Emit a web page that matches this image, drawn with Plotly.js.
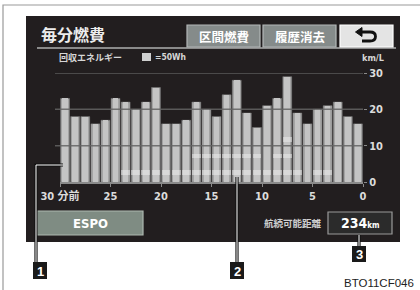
<!DOCTYPE html>
<html><head><meta charset="utf-8">
<script src="https://cdn.plot.ly/plotly-3.0.1.min.js"></script>
<style>html,body{margin:0;padding:0;background:#fff;}#c{width:420px;height:290px;}</style>
</head><body><div id="c"></div>
<script>
// ---- data ----
const minuteSlots = [1,2,3,4,5,6,7,8,9,10,11,12,13,14,15,16,17,18,19,20,21,22,23,24,25,26,27,28,29,30];
const fuelKmL = [23,18,18,16,17,23,22,20,22,26,16,16,17,22,20,18,24,28,19,15,21,23,29,19,16,20,21,22,18,16];
const regenBlocks = [0,0,0,0,0,0,1,1,1,1,1,1,1,2,2,2,2,2,2,2,1,2,3,1,0,1,1,0,0,0];
const xTickLabels = ['30 分前','25','20','15','10','5','0'];
const yTickLabels = ['0','10','20','30'];
const yTickValues = [0,10,20,30];
const rangeKm = '234';

// ---- geometry helpers (pixel -> paper) ----
const W=420,H=290,L=60,R=57,T=73,B=108;
const pw=W-L-R, ph=H-T-B;
const px=x=>(x-L)/pw, py=y=>(H-B-y)/ph;
const CJK = '"Noto Sans CJK JP","Noto Sans",sans-serif';
const NARROW = '"Liberation Sans Narrow","DejaVu Sans Condensed","Noto Sans CJK JP",sans-serif';

const shapes=[];
function rect(x0,y0,x1,y1,fill,lc,lw,layer){
  shapes.push({type:'rect',xref:'paper',yref:'paper',x0:px(x0),x1:px(x1),y0:py(y1),y1:py(y0),
    fillcolor:fill,line:{color:lc||'rgba(0,0,0,0)',width:lw||0},layer:layer||'below'});
}
function line(x0,y0,x1,y1,c,w,layer){
  shapes.push({type:'line',xref:'paper',yref:'paper',x0:px(x0),x1:px(x1),y0:py(y0),y1:py(y1),
    line:{color:c,width:w},layer:layer||'below'});
}
const ann=[];
function text(x,y,t,size,color,xa,opts){
  ann.push(Object.assign({xref:'paper',yref:'paper',x:px(x),y:py(y),text:t,showarrow:false,
    xanchor:xa||'center',yanchor:'middle',font:{family:CJK,size:size,color:color,weight:'bold'}},opts||{}));
}

// frame & screen
rect(3,5,440,310,'rgba(0,0,0,0)','#9a9a9a',1.2);
rect(26,16,400,242,'#221e1f');
// title underline
line(37,48,396,48,'#8a8a8a',2);
// buttons
rect(187,25,260,47,'#858b8a','#b4b8b8',1.2);
rect(263,25,336,47,'#858b8a','#b4b8b8',1.2);
rect(340,25,393,47,'#e4e4e4','#ffffff',1.2);
// back arrow
shapes.push({type:'path',xref:'paper',yref:'paper',layer:'above',
  path:`M${px(361)},${py(32)} L${px(370)},${py(32)} Q${px(375.5)},${py(32)} ${px(375.5)},${py(36.5)} Q${px(375.5)},${py(41)} ${px(370)},${py(41)} L${px(362)},${py(41)}`,
  line:{color:'#111',width:2.8}});
shapes.push({type:'path',xref:'paper',yref:'paper',layer:'above',
  path:`M${px(355.5)},${py(32)} L${px(362)},${py(27.5)} L${px(362)},${py(36.5)} Z`,
  fillcolor:'#111',line:{color:'#111',width:1}});
// legend square
rect(142,53,151,61,'#cfcfcf');
// ESPO button
rect(37,211,143,235,'#7f8c83','#adb8b0',1.2);
// range box
rect(328,212,392,234,'#2b2b2b','#9a9a9a',1.2);

// gridlines above bars
yTickValues.slice(1).forEach(v=>{
  shapes.push({type:'line',xref:'paper',yref:'y',x0:px(55),x1:1,y0:v,y1:v,
    line:{color:'rgba(100,100,100,0.85)',width:1.5},layer:'above'});
});

// callouts
function callout(pts,sq,num){
  const path='M'+pts.map(p=>px(p[0])+','+py(p[1])).join(' L');
  shapes.push({type:'path',xref:'paper',yref:'paper',path:path,line:{color:'#111',width:3.2},layer:'above'});
  shapes.push({type:'path',xref:'paper',yref:'paper',path:path,line:{color:'#ffffff',width:1},layer:'above'});
  rect(sq[0],sq[1],sq[2],sq[3],'#1a1a1a','#1a1a1a',0,'above');
  text((sq[0]+sq[2])/2,(sq[1]+sq[3])/2+0.5,num,13,'#ffffff','center',{font:{family:'"Liberation Sans",Arial,sans-serif',size:13,color:'#fff',weight:'bold'}});
}
callout([[63,165],[36,165],[36,262]],[33,262,47,279],'1');
callout([[237,177],[237,262]],[230,262,244,279],'2');
callout([[359,235],[359,246]],[352,246,366,262],'3');

// texts
text(39,34,'毎分燃費',16,'#ececec','left');
text(223.5,36,'区間燃費',12.5,'#ffffff');
text(299.5,36,'履歴消去',12.5,'#ffffff');
text(57,57,'回収エネルギー',9,'#d6d6d6','left');
text(153,57,'=50Wh',8.5,'#d6d6d6','left',{font:{family:NARROW,size:8.5,color:'#d6d6d6',weight:'bold'}});
text(373,58,'km/L',9,'#d6d6d6','center',{font:{family:NARROW,size:9,color:'#d6d6d6',weight:'bold'}});
text(90,223,'ESPO',12,'#ffffff','center',{font:{family:NARROW,size:13,color:'#fff',weight:'bold'}});
text(293,223,'航続可能距離',9.5,'#cfcfcf');
text(360,223,rangeKm+'<span style="font-size:8px">km</span>',14,'#ffffff','center',{font:{family:NARROW,size:14,color:'#fff',weight:'bold'}});
text(379,283,'BTO11CF046',11.5,'#222','center',{font:{family:'"Liberation Sans",Arial,sans-serif',size:11.5,color:'#222',weight:'normal'}});

// ---- traces ----
const traces=[
  {type:'bar',x:minuteSlots,y:fuelKmL,width:0.88,marker:{color:'#a4a4a4',line:{color:'#7c7c7c',width:0.5}}},
  {type:'bar',x:minuteSlots,y:fuelKmL,width:0.55,marker:{color:'#c4c4c4',line:{width:0}}}
];
[1,2,3].forEach(k=>{
  traces.push({type:'bar',x:minuteSlots,
    y:regenBlocks.map(b=>b>=k?1.3:null),
    base:regenBlocks.map(b=>b>=k?2.0+4.5*(k-1):null),
    width:0.88,marker:{color:'rgba(238,238,238,0.5)',line:{width:0}}});
});

const layout={
  width:W,height:H,margin:{l:L,r:R,t:T,b:B,pad:0},
  paper_bgcolor:'#ffffff',plot_bgcolor:'rgba(0,0,0,0)',
  showlegend:false,barmode:'overlay',bargap:0,
  xaxis:{range:[0.5,30.5],tickvals:[0.5,5.5,10.5,15.5,20.5,25.5,30.5],ticktext:xTickLabels,
    showgrid:false,zeroline:false,showline:true,linecolor:'#8a8a8a',linewidth:1.5,
    ticks:'outside',ticklen:3,tickcolor:'#8a8a8a',tickwidth:1,
    tickfont:{family:NARROW,size:11,color:'#dcdcdc',weight:'bold'},fixedrange:true},
  yaxis:{range:[0,30],side:'right',tickvals:yTickValues,ticktext:yTickLabels,
    showgrid:false,zeroline:false,showline:false,ticks:'outside',ticklen:3,tickcolor:'#8a8a8a',
    tickfont:{family:NARROW,size:11,color:'#dcdcdc',weight:'bold'},fixedrange:true},
  shapes:shapes,annotations:ann
};
Plotly.newPlot('c',traces,layout,{staticPlot:true,displayModeBar:false});
</script></body></html>
